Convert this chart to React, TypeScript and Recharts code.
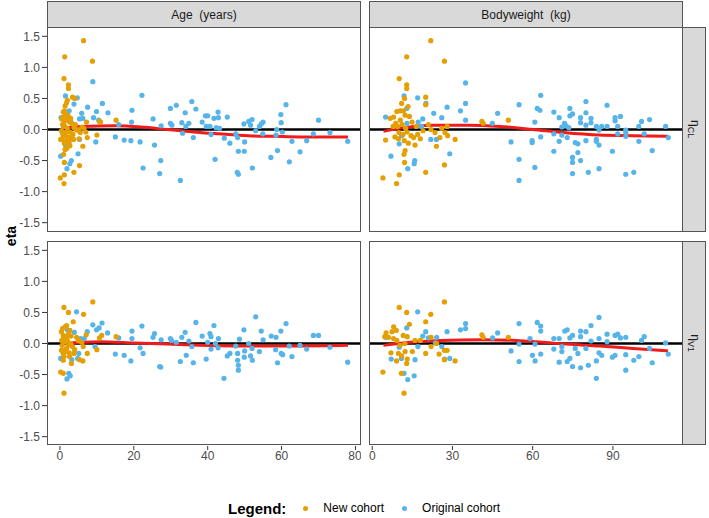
import { ComposedChart, Line, Scatter, XAxis, YAxis } from "recharts";

// eta vs covariate, new cohort (orange) and original cohort (blue)
const etaTicks = [-1.5, -1.0, -0.5, 0.0, 0.5, 1.0, 1.5];
const ageTicks = [0, 20, 40, 60, 80];
const wtTicks = [0, 30, 60, 90];
const ageDomain: [number, number] = [-3.5, 81.5];
const wtDomain: [number, number] = [-1.2, 116.2];

const ageOrigCL: [number, number][] = [
  [0.3, 0.19], [0.2, -0.43], [1.9, -0.63], [2.7, -0.55], [3.1, -0.5], [4.9, -0.39], [5.3, -0.16], [2.3, -0.13],
  [6.2, 0.18], [1.5, 0.54], [4.7, 0.51], [3.8, 0.41], [8.9, 0.77], [5.9, 0.26], [7.5, 0.36], [5.3, 0.17],
  [9.1, 0.19], [9.9, 0.29], [11.5, 0.42], [10.5, 0.15], [13, 0.27], [9.7, -0.2], [15, -0.12], [15.9, 0.08],
  [17.4, -0.17], [19.2, -0.18], [19.5, 0.31], [19.4, 0.12], [21.7, -0.2], [22.2, 0.55], [22.5, -0.62], [25.2, 0.17],
  [25.6, -0.25], [27.3, -0.5], [27, -0.71], [27.4, 0.06], [29.9, 0.34], [29.9, 0.1], [30.3, 0.07], [31.5, 0.39],
  [32.6, -0.82], [33, 0.11], [33.2, -0.06], [33.9, 0.27], [34.1, 0.05], [34.9, 0.1], [35.7, 0.45], [36.1, -0.13],
  [36.8, 0.33], [38.5, 0.12], [39.4, 0.22], [40, 0.22], [39.6, 0.05], [40.6, 0.05], [40.9, -0.08], [41.7, 0.18],
  [42, -0.48], [42.3, 0.03], [42.8, 0.28], [42.9, 0.19], [43.2, 0.02], [44.5, -0.14], [45.3, 0.2], [46, -0.22],
  [47.6, -0.07], [48.1, -0.13], [48.3, -0.35], [48, -0.69], [48.3, -0.72], [49.8, 0.09], [49.9, -0.35], [50, -0.2],
  [51.1, 0.13], [51.6, 0.07], [52, 0.16], [52.1, -0.62], [53, -0.02], [54, 0.05], [54.5, 0.09], [55, 0.12],
  [54.9, -0.07], [57.1, -0.45], [58.5, -0.09], [58.7, 0.0], [58.9, -0.34], [59.8, 0.24], [59.9, 0.11], [60.2, -0.04],
  [61.2, 0.4], [62.1, -0.52], [62.8, -0.19], [65, -0.36], [66.8, -0.18], [68.6, -0.07], [70, 0.15], [73.1, -0.05],
  [77.9, -0.19], [1.0, 0.05], [2.0, 0.25], [1.5, -0.25], [3.0, 0.12], [0.8, -0.05], [2.5, 0.3],
];

const ageNewCL: [number, number][] = [
  [6.4, 1.43], [1.3, 1.17], [8.8, 1.1], [1.1, 0.82], [2.3, 0.72], [2.3, 0.66], [3.4, 0.52], [1.8, 0.43],
  [1.4, 0.38], [2.0, 0.47], [1.2, 0.3], [0.9, 0.28], [1.6, 0.25], [2.2, 0.22], [1.0, 0.2], [0.5, 0.17],
  [1.8, 0.15], [2.6, 0.12], [3.2, 0.1], [0.7, 0.08], [1.3, 0.05], [2.0, 0.02], [3.8, 0.03], [0.4, -0.02],
  [1.5, -0.05], [2.8, -0.04], [4.5, -0.01], [1.0, -0.1], [2.2, -0.12], [0.6, -0.15], [1.7, -0.18], [3.0, -0.14],
  [3.7, -0.16], [0.2, -0.16], [1.2, -0.22], [2.5, -0.2], [1.4, -0.32], [2.7, -0.26], [1.0, -0.4], [1.2, -0.53],
  [0.1, -0.78], [1.1, -0.87], [1.2, -0.73], [3.8, -0.69], [5.3, -0.58], [6.2, -0.27], [7.2, 0.12], [7.0, -0.04],
  [7.4, -0.13], [6.5, 0.02], [5.0, 0.0], [4.2, 0.08], [5.5, -0.05], [10.0, -0.09], [10.7, 0.13], [11.0, 0.12],
  [15.2, 0.15], [4.0, 0.5], [5.2, -0.15], [6.0, 0.04], [3.5, -0.08], [2.9, 0.18], [1.9, -0.3], [0.8, -0.08],
  [1.1, 0.12],
];

const wtOrigCL: [number, number][] = [
  [34.9, 0.75], [34.9, 0.42], [34.9, 0.15], [33, 0.3], [28, 0.36], [26, 0.19], [23, 0.26], [20.1, 0.42],
  [18.9, 0.17], [17, 0.51], [11.9, 0.54], [12.9, 0.34], [5, 0.2], [7, -0.43], [10.1, -0.23], [13.3, -0.63],
  [15.7, -0.55], [15.9, -0.5], [21.9, -0.16], [24, -0.16], [29, -0.39], [18.4, 0.05], [17.2, 0.12], [13.0, 0.1],
  [11.0, -0.1], [46.9, 0.26], [44.9, 0.1], [51.9, -0.2], [54.9, 0.4], [54.9, -0.48], [54.9, -0.82], [59.8, -0.18],
  [59.8, -0.21], [60.8, 0.12], [60.8, -0.61], [61.7, 0.34], [62.7, 0.31], [63, 0.55], [63, -0.12], [67.9, 0.28],
  [67.9, -0.07], [67.9, -0.35], [69.9, 0.19], [69.9, -0.19], [70.9, 0.04], [70.9, -0.09], [71.9, 0.1], [72.5, 0.06],
  [73.5, 0.03], [72.9, -0.13], [73.9, 0.34], [73.9, 0.22], [74.9, 0.25], [74.9, -0.45], [74.9, -0.53], [74.9, -0.71],
  [75.9, -0.21], [76.9, -0.23], [76.9, -0.37], [77.9, 0.19], [77.9, 0.11], [77.9, -0.5], [79.9, 0.45], [79.9, 0.27],
  [79.9, 0.07], [79.9, -0.18], [80.8, -0.69], [81.8, 0.18], [81.8, 0.11], [83.8, 0.05], [83.8, -0.16], [83.8, -0.19],
  [84.8, -0.01], [84.8, -0.25], [84.8, -0.63], [85.8, 0.05], [87.8, 0.39], [87.8, 0.05], [89.8, -0.35], [90.8, 0.19],
  [90.8, 0.14], [91.8, 0.05], [92.8, 0.21], [91.8, -0.07], [94.8, -0.01], [94.8, -0.05], [94.8, -0.11], [94.8, -0.72],
  [97.8, -0.69], [99.7, 0.05], [99.7, -0.19], [100.7, 0.13], [101.7, -0.07], [103.7, 0.16], [104.7, -0.34], [109.7, 0.05],
  [110.7, -0.13],
];

const wtNewCL: [number, number][] = [
  [21.9, 1.43], [12.9, 1.17], [27, 1.1], [10.1, 0.82], [12.9, 0.72], [12.9, 0.66], [12.1, 0.5], [20, 0.52],
  [20, 0.4], [11, 0.42], [13.4, 0.37], [10.5, 0.3], [11.7, 0.3], [9.2, 0.29], [8, 0.2], [6.7, 0.18],
  [8.8, 0.1], [10.5, 0.15], [12.3, 0.23], [13.9, 0.21], [14.9, 0.12], [9.5, 0.05], [11.2, 0.08], [12.5, 0.02],
  [7.8, 0.05], [10, -0.05], [11.5, -0.08], [13, -0.04], [14.5, -0.1], [8.5, -0.12], [9.8, -0.15], [12, -0.18],
  [13.5, -0.22], [15.5, -0.13], [17, -0.08], [18, -0.15], [16, -0.25], [41, 0.13], [41.5, 0.1], [50.9, 0.15],
  [31, -0.16], [28.2, -0.1], [27.2, -0.05], [25.3, -0.13], [24, -0.27], [20, -0.69], [27, -0.57], [4, -0.78],
  [9.1, -0.87], [10.1, -0.73], [12.1, -0.53], [11.9, -0.4], [12.3, -0.34], [5, -0.17], [22, 0.0], [19, -0.02],
  [23.5, -0.05], [16.5, 0.05], [21, 0.08], [26, 0.02], [28, 0.05],
];

const ageOrigV1: [number, number][] = [
  [4.5, 0.51], [8.9, 0.3], [9.9, 0.22], [10.6, 0.25], [11.4, 0.33], [12.9, 0.17], [7.4, 0.19], [3.9, 0.18],
  [5.6, 0.08], [6.6, 0.08], [5.1, -0.16], [4.8, -0.24], [1.9, -0.57], [2.4, -0.48], [2.8, -0.52], [3.2, -0.26],
  [0.2, -0.24], [9.5, -0.05], [15, -0.17], [15.9, 0.09], [17.4, -0.19], [19.2, -0.28], [19.5, 0.08], [19.5, 0.2],
  [21.7, -0.07], [22.2, 0.28], [22.5, -0.16], [25.2, 0.1], [25.6, 0.16], [27, -0.37], [27.3, -0.38], [27.4, 0.06],
  [29.9, 0.08], [30.2, 0.05], [31.5, 0.02], [32.6, -0.29], [33, 0.1], [33.9, 0.18], [34.2, -0.19], [34.9, 0.04],
  [35.7, -0.05], [36.1, -0.31], [36.8, 0.34], [38.5, 0.12], [39.6, -0.25], [40, 0.02], [40.6, 0.16], [40.9, 0.11],
  [40.9, -0.09], [41.7, 0.29], [42.1, 0.0], [42.8, -0.07], [42.9, 0.08], [44.4, -0.56], [45.3, -0.2], [46, -0.16],
  [47.6, -0.04], [48.1, -0.27], [48.3, -0.35], [48.3, -0.43], [48.1, -0.16], [48.6, 0.07], [49.8, 0.22], [50, -0.12],
  [49.9, -0.22], [51.1, 0.0], [51.6, -0.2], [52, -0.08], [52.1, -0.27], [53, 0.43], [54, -0.13], [54.5, 0.2],
  [55, 0.06], [57.2, 0.12], [58.5, 0.1], [58.4, -0.1], [58.9, -0.31], [59.8, 0.2], [59.9, -0.16], [60.3, -0.18],
  [61.2, 0.32], [62.1, -0.04], [62.8, -0.21], [65, -0.03], [66.8, -0.09], [68.6, 0.13], [70, 0.13], [73.1, -0.06],
  [77.9, -0.3], [1.0, 0.1], [2.0, 0.22], [1.5, -0.1],
];

const ageNewV1: [number, number][] = [
  [8.9, 0.67], [1.1, 0.58], [2.3, 0.5], [6.4, 0.47], [3.6, 0.35], [0.2, -0.46], [0.9, -0.48], [1.1, -0.8],
  [1.8, 0.29], [1.4, 0.27], [0.7, 0.24], [0.4, 0.19], [0.9, 0.13], [1.8, 0.11], [2.3, 0.15], [2.7, 0.21],
  [1.4, 0.03], [0.6, -0.03], [0.4, -0.11], [0.9, -0.16], [1.1, -0.21], [1.5, -0.13], [1.8, -0.08], [2.3, -0.03],
  [2.9, 0.0], [3.4, -0.05], [3.8, -0.16], [3.1, -0.32], [2.6, -0.21], [0.9, -0.27], [5.3, -0.26], [6.2, -0.28],
  [7.1, 0.14], [7.4, -0.16], [5.9, 0.02], [6.3, -0.05], [10, -0.1], [10.7, 0.09], [11.3, 0.13], [15.2, 0.11],
  [4.5, 0.1], [5.0, 0.05], [2.0, 0.05], [1.2, 0.08], [3.0, 0.12], [0.5, 0.05], [4.0, -0.1], [2.5, -0.15],
];

const wtOrigV1: [number, number][] = [
  [17, 0.51], [20, 0.19], [18.9, 0.12], [21, 0.09], [24.1, 0.1], [23.6, 0.01], [26, -0.05], [28, 0.19],
  [29, -0.24], [27, -0.25], [33, 0.22], [34.9, 0.32], [34.9, 0.24], [7.1, -0.25], [10.1, -0.06], [10.9, -0.24],
  [11.9, -0.48], [13.3, -0.58], [15.7, -0.52], [16, -0.26], [17.1, -0.05], [5, 0.1], [12.9, 0.25], [46.9, 0.17],
  [45, 0.09], [51.9, -0.12], [54.9, 0.32], [54.9, -0.01], [54.9, -0.29], [59, 0.08], [59.9, -0.19], [60.9, -0.01],
  [60.9, -0.28], [61.7, 0.34], [63, 0.28], [63, 0.2], [63, -0.17], [67.9, 0.08], [67.9, -0.09], [69.9, 0.08],
  [69.9, -0.3], [70.9, -0.05], [70.9, -0.13], [72, 0.2], [72.9, 0.22], [72.9, -0.29], [73.9, -0.24], [73.9, 0.09],
  [74.9, 0.13], [74.9, -0.37], [75.9, -0.08], [76.9, -0.16], [77.9, -0.39], [77.9, 0.2], [77.9, 0.11], [79.9, 0.19],
  [79.9, -0.08], [80.8, -0.35], [81.8, 0.29], [81.8, 0.04], [83.8, -0.28], [83.8, -0.56], [84.8, 0.42], [84.8, 0.08],
  [84.8, -0.15], [85.8, -0.19], [87.8, 0.15], [87.8, 0.03], [89.8, -0.22], [90.8, -0.19], [90.8, 0.13], [91.8, 0.15],
  [92.8, 0.09], [94.8, 0.1], [94.8, -0.18], [94.8, -0.43], [97.8, -0.27], [99.7, -0.21], [100.7, 0.05], [101.7, 0.11],
  [103.7, -0.08], [104.7, -0.31], [109.7, 0.01], [110.7, -0.17],
];

const wtNewV1: [number, number][] = [
  [27, 0.67], [10.1, 0.58], [12.9, 0.5], [21.9, 0.47], [20, 0.35], [13.9, 0.31], [8, 0.27], [9, 0.21],
  [7.4, 0.19], [5.2, 0.17], [4.7, 0.11], [6.1, 0.1], [8, 0.08], [9.2, 0.05], [11.6, 0.13], [13.1, 0.11],
  [12.2, 0.0], [10.4, -0.03], [4, -0.46], [10.9, -0.48], [11.9, -0.8], [12.9, -0.32], [9.1, -0.28], [7, -0.15],
  [9.8, -0.16], [11, -0.2], [12.3, -0.13], [13.1, -0.25], [15, -0.13], [22, 0.1], [22, -0.05], [24.1, 0.0],
  [25, -0.17], [27, -0.11], [28, -0.11], [27, -0.26], [31, -0.28], [41, 0.14], [41.5, 0.1], [50.9, 0.1],
  [20, -0.16], [18, 0.05], [16, 0.05],
];

// loess smooth
const ageSmoothCL: [number, number][] = [
  [0.3, 0.02], [6, 0.05], [15, 0.06], [22, 0.04], [29, 0.0], [36, -0.04], [43, -0.07], [51, -0.1], [58, -0.11], [65, -0.12], [78, -0.12],
];
const wtSmoothCL: [number, number][] = [
  [4.2, -0.03], [11.7, 0.03], [22.9, 0.07], [35.3, 0.07], [47.8, 0.05], [60.2, 0.0], [71.4, -0.05], [85, -0.09], [97.5, -0.1], [110.6, -0.11],
];
const ageSmoothV1: [number, number][] = [
  [0.3, 0.0], [10.9, 0.03], [20, 0.01], [29, -0.01], [38, -0.03], [47, -0.04], [56, -0.04], [65, -0.04], [78, -0.03],
];
const wtSmoothV1: [number, number][] = [
  [4.2, -0.03], [14.2, 0.02], [25.4, 0.05], [41.5, 0.06], [54, 0.05], [61.4, 0.03], [72.6, -0.01], [85, -0.04], [97.5, -0.08], [110.6, -0.12],
];

const ORANGE = "#E69F00";
const BLUE = "#56B4E9";
const RED = "#F01B1B";
const FONT = "'Liberation Sans', Arial, sans-serif";
const tickStyle = { fontSize: 12, fill: "#4D4D4D", fontFamily: FONT };

const toPts = (a: [number, number][]) => a.map(([x, y]) => ({ x, y }));
const dot = (color: string) => (p: any) => <circle cx={p.cx} cy={p.cy} r={2.6} fill={color} />;

interface PanelProps {
  left: number;
  top: number;
  showX: boolean;
  showY: boolean;
  domain: [number, number];
  ticks: number[];
  orig: [number, number][];
  fresh: [number, number][];
  smooth: [number, number][];
}

const PW = 314;
const PH = 205;
const YW = 47;
const XH = 24;

const Panel = ({ left, top, showX, showY, domain, ticks, orig, fresh, smooth }: PanelProps) => {
  const w = PW + (showY ? YW : 0);
  const h = PH + (showX ? XH : 0);
  const zero = [{ x: domain[0], y: 0 }, { x: domain[1], y: 0 }];
  return (
    <div style={{ position: "absolute", left, top }}>
      <ComposedChart width={w} height={h} margin={{ top: 0, right: 0, bottom: 0, left: 0 }}>
        <XAxis
          type="number"
          dataKey="x"
          domain={domain}
          ticks={ticks}
          hide={!showX}
          height={XH}
          axisLine={false}
          tickSize={4}
          tickMargin={1}
          tickLine={{ stroke: "#333" }}
          tick={tickStyle}
          allowDataOverflow
        />
        <YAxis
          type="number"
          dataKey="y"
          domain={[-1.65, 1.65]}
          ticks={etaTicks}
          hide={!showY}
          width={YW}
          axisLine={false}
          tickSize={5}
          tickMargin={2}
          tickLine={{ stroke: "#333" }}
          tick={tickStyle}
          tickFormatter={(v: number) => v.toFixed(1)}
          allowDataOverflow
        />
        <Line data={zero} dataKey="y" stroke="#000" strokeWidth={2.6} dot={false} isAnimationActive={false} />
        <Scatter data={toPts(orig)} fill={BLUE} shape={dot(BLUE)} isAnimationActive={false} />
        <Scatter data={toPts(fresh)} fill={ORANGE} shape={dot(ORANGE)} isAnimationActive={false} />
        <Line data={toPts(smooth)} dataKey="y" type="monotone" stroke={RED} strokeWidth={3} dot={false} isAnimationActive={false} />
      </ComposedChart>
    </div>
  );
};

const border = "1px solid #555";

const App = () => (
  <div style={{ position: "absolute", left: 0, top: 0, width: 709, height: 518, background: "#fff", fontFamily: FONT }}>
    <Panel left={0} top={27} showY showX={false} domain={ageDomain} ticks={ageTicks} orig={ageOrigCL} fresh={ageNewCL} smooth={ageSmoothCL} />
    <Panel left={369} top={27} showY={false} showX={false} domain={wtDomain} ticks={wtTicks} orig={wtOrigCL} fresh={wtNewCL} smooth={wtSmoothCL} />
    <Panel left={0} top={241} showY showX domain={ageDomain} ticks={ageTicks} orig={ageOrigV1} fresh={ageNewV1} smooth={ageSmoothV1} />
    <Panel left={369} top={241} showY={false} showX domain={wtDomain} ticks={wtTicks} orig={wtOrigV1} fresh={wtNewV1} smooth={wtSmoothV1} />

    {/* panel borders */}
    {[[47, 27], [369, 27], [47, 241], [369, 241]].map(([l, t]) => (
      <div key={`${l}-${t}`} style={{ position: "absolute", left: l, top: t, width: PW, height: t === 27 ? PH : PH - 1, border, boxSizing: "border-box", pointerEvents: "none" }} />
    ))}

    {/* top strips */}
    {[
      [47, "Age  (years)"],
      [369, "Bodyweight  (kg)"],
    ].map(([l, label]) => (
      <div key={label as string} style={{ position: "absolute", left: l as number, top: 1, width: PW, height: 27, background: "#D9D9D9", border, boxSizing: "border-box", display: "flex", alignItems: "center", justifyContent: "center", fontSize: 12, color: "#1A1A1A", whiteSpace: "pre" }}>
        {label}
      </div>
    ))}

    {/* right strips */}
    {[
      [27, PH, "CL"],
      [241, PH - 1, "V1"],
    ].map(([t, h, sub]) => (
      <div key={sub as string} style={{ position: "absolute", left: 682, top: t as number, width: 24, height: h as number, background: "#D9D9D9", border, boxSizing: "border-box", display: "flex", alignItems: "center", justifyContent: "center" }}>
        <div style={{ transform: "rotate(90deg)", fontSize: 12, color: "#1A1A1A", whiteSpace: "nowrap" }}>
          η<sub style={{ fontSize: 9 }}>{sub}</sub>
        </div>
      </div>
    ))}

    <div style={{ position: "absolute", left: 0, top: 236, width: 26, transform: "translate(-2px, -50%) rotate(-90deg)", textAlign: "center", fontWeight: "bold", fontSize: 14, color: "#000" }}>
      eta
    </div>

    {/* legend */}
    <div style={{ position: "absolute", left: 228, top: 498, height: 20, display: "flex", alignItems: "center", color: "#000" }}>
      <span style={{ fontWeight: "bold", fontSize: 15 }}>Legend:</span>
      <span style={{ display: "inline-block", width: 5, height: 5, borderRadius: 3, background: ORANGE, marginLeft: 17 }} />
      <span style={{ fontSize: 12, marginLeft: 15 }}>New cohort</span>
      <span style={{ display: "inline-block", width: 5, height: 5, borderRadius: 3, background: BLUE, marginLeft: 18 }} />
      <span style={{ fontSize: 12, marginLeft: 15 }}>Original cohort</span>
    </div>
  </div>
);

export default App;
